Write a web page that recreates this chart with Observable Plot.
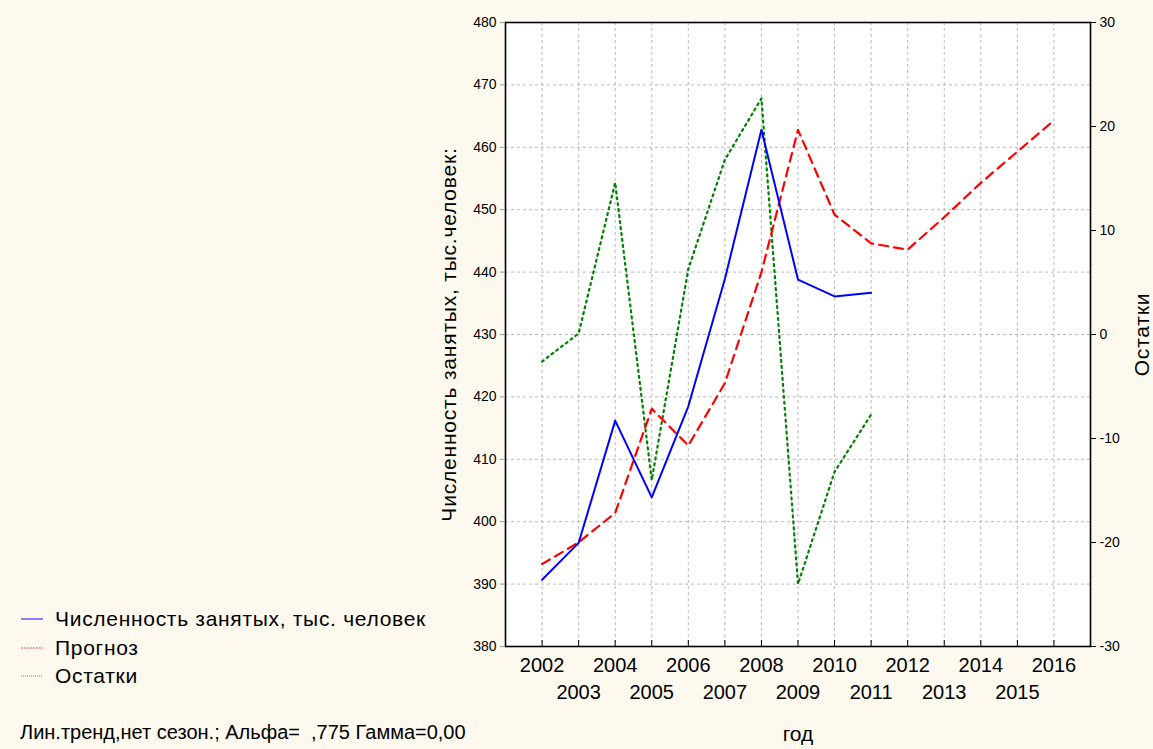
<!DOCTYPE html>
<html>
<head>
<meta charset="utf-8">
<script src="https://cdn.jsdelivr.net/npm/d3@7"></script>
<script src="https://cdn.jsdelivr.net/npm/@observablehq/plot@0.6"></script>
<style>
  html, body { margin: 0; padding: 0; background: #fdf9ef; }
  #wrap { position: relative; width: 1153px; height: 749px; overflow: hidden; font-family: "Liberation Sans", Arial, sans-serif; color: #000; }
  #legend { position: absolute; left: 20px; top: 605px; font-size: 21px; line-height: 28.5px; letter-spacing: 0.7px; }
  .row { display: flex; align-items: center; }
  .row svg { margin-right: 11px; }
  #caption { position: absolute; left: 20px; top: 721px; font-size: 20px; }
</style>
</head>
<body>
<div id="wrap">
  <div id="chart"></div>
  <div id="legend"></div>
  <div id="caption">Лин.тренд,нет сезон.; Альфа=&nbsp; ,775 Гамма=0,00</div>
</div>
<script>
// Data
const years = [2002, 2003, 2004, 2005, 2006, 2007, 2008, 2009, 2010, 2011, 2012, 2013, 2014, 2015, 2016];
const actualYears = [2002, 2003, 2004, 2005, 2006, 2007, 2008, 2009, 2010, 2011];
const actual = [390.7, 396.6, 416.2, 403.9, 418.5, 438.9, 462.8, 438.8, 436.1, 436.7];
const forecast = [393.2, 396.7, 401.4, 418.1, 412.2, 422.2, 440.0, 462.8, 449.2, 444.6, 443.6, 448.8, 454.3, 459.3, 464.3];
const residuals = [-2.6, 0.1, 14.6, -14.0, 6.3, 16.8, 22.7, -24.0, -13.2, -7.7];
const leftTicks = [380, 390, 400, 410, 420, 430, 440, 450, 460, 470, 480];
const rightTicks = [-30, -20, -10, 0, 10, 20, 30];
const evenYears = [2002, 2004, 2006, 2008, 2010, 2012, 2014, 2016];
const oddYears = [2003, 2005, 2007, 2009, 2011, 2013, 2015];
const seriesNames = ["Численность занятых, тыс. человек", "Прогноз", "Остатки"];
const seriesColors = ["#0000ff", "#ff0000", "#008000"];

// map residual axis (-30..30) onto the left axis (380..480)
const toLeft = r => 430 + r * 100 / 60;
const fromLeft = v => Math.round((v - 430) * 60 / 100);

const actualData = actualYears.map((x, i) => ({x, y: actual[i]}));
const forecastData = years.map((x, i) => ({x, y: forecast[i]}));
const residData = actualYears.map((x, i) => ({x, y: toLeft(residuals[i])}));

const font = "'Liberation Sans', Arial, sans-serif";

const chart = Plot.plot({
  width: 1153,
  height: 749,
  marginLeft: 505,
  marginRight: 63,
  marginTop: 22,
  marginBottom: 103,
  style: { background: "transparent", fontFamily: font, color: "#000", overflow: "visible" },
  x: { domain: [2001, 2017] },
  y: { domain: [380, 480] },
  marks: [
    Plot.frame({ fill: "white", stroke: null }),
    Plot.gridX(years, { stroke: "#b8b8b8", strokeOpacity: 1, strokeDasharray: "3,3" }),
    Plot.gridY(leftTicks, { stroke: "#b8b8b8", strokeOpacity: 1, strokeDasharray: "3,3" }),
    Plot.line(residData, { x: "x", y: "y", stroke: seriesColors[2], strokeWidth: 2.2, strokeDasharray: "2,4" }),
    Plot.line(forecastData, { x: "x", y: "y", stroke: seriesColors[1], strokeWidth: 2.2, strokeDasharray: "9,6" }),
    Plot.line(actualData, { x: "x", y: "y", stroke: seriesColors[0], strokeWidth: 2 }),
    Plot.frame({ stroke: "#000", strokeWidth: 1.6 }),
    Plot.axisY(leftTicks, {
      anchor: "left", tickSize: 5, tickPadding: 4, fontSize: 14, stroke: "#999",
      label: "Численность занятых, тыс.человек:", labelAnchor: "center", labelArrow: "none", labelOffset: 64
    }),
    Plot.axisY(rightTicks.map(toLeft), {
      anchor: "right", tickSize: 5, tickPadding: 4, fontSize: 14, tickFormat: fromLeft,
      label: "Остатки", labelAnchor: "center", labelArrow: "none", labelOffset: 58
    }),
    Plot.axisX(years, { anchor: "bottom", tickSize: -6, text: null, label: null }),
    Plot.axisX(evenYears, { anchor: "bottom", tickSize: 0, tickPadding: 11, fontSize: 20, tickFormat: d => String(d), label: null }),
    Plot.axisX(oddYears, { anchor: "bottom", tickSize: 0, tickPadding: 38, fontSize: 20, tickFormat: d => String(d),
      label: "год", labelAnchor: "center", labelArrow: "none", labelOffset: 94 })
  ]
});
document.getElementById("chart").appendChild(chart);
chart.querySelectorAll("g[aria-label='y-axis label'] text").forEach(t => { t.setAttribute("font-size", 21); t.setAttribute("letter-spacing", "0.8"); });
chart.querySelectorAll("g[aria-label='x-axis label'] text").forEach(t => t.setAttribute("font-size", 21));

// legend
const legend = d3.select("#legend");
const dashes = [null, "2,1", "1,1"];
seriesNames.forEach((name, i) => {
  const row = legend.append("div").attr("class", "row");
  const s = row.append("svg").attr("width", 24).attr("height", 10);
  s.append("line").attr("x1", 1).attr("x2", 23).attr("y1", 5).attr("y2", 5)
    .attr("stroke", seriesColors[i]).attr("stroke-width", i === 0 ? 1.2 : 1)
    .attr("stroke-dasharray", dashes[i]).attr("stroke-opacity", i === 0 ? 0.8 : 0.7);
  row.append("span").text(name);
});
</script>
</body>
</html>
